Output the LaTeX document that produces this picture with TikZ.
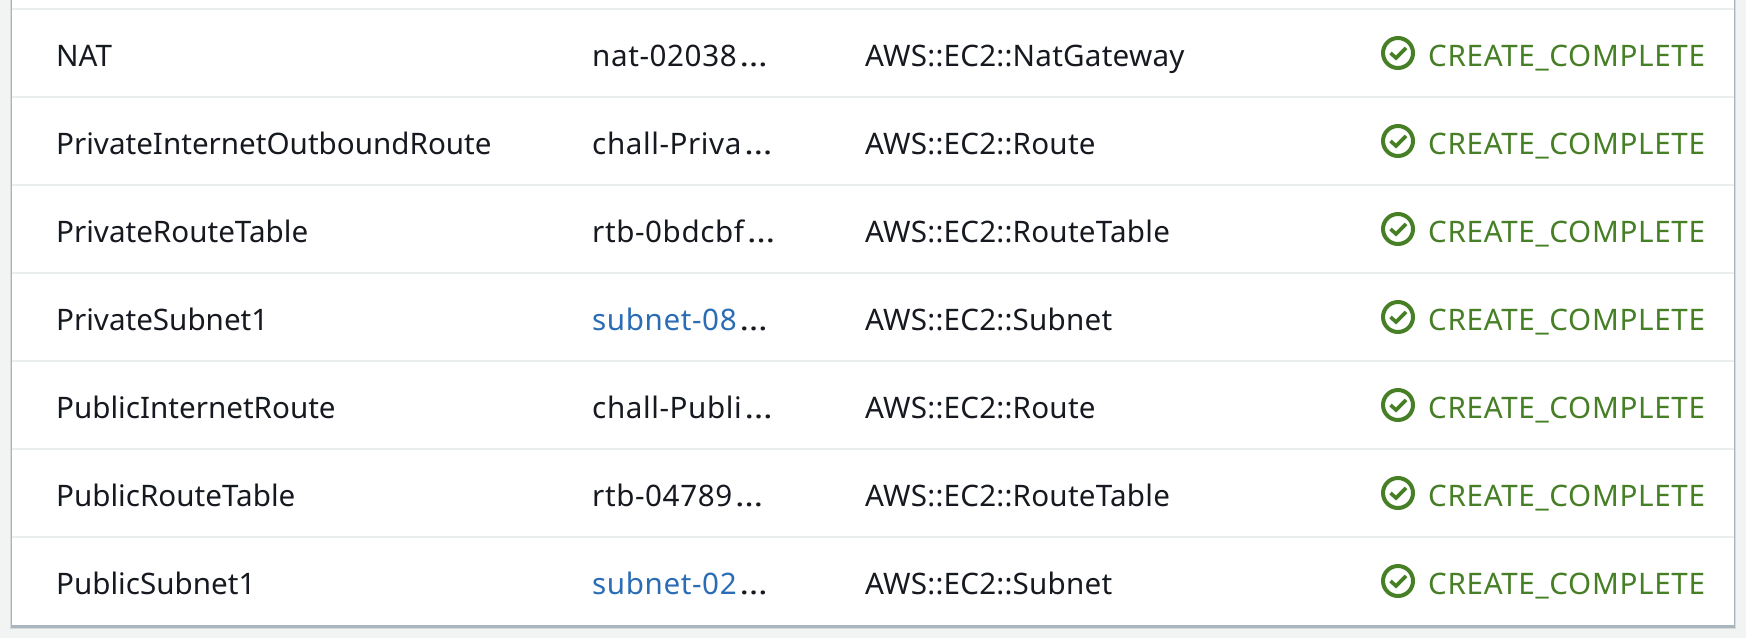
\documentclass[tikz,border=0pt]{standalone}
\usepackage{fontspec}
\setmainfont{Noto Sans}
\usetikzlibrary{positioning}
\definecolor{pagegray}{HTML}{F2F3F3}
\definecolor{rowgray}{HTML}{EAEDED}
\definecolor{edgegray}{HTML}{A9B5BC}
\definecolor{softgray}{HTML}{D5DBDB}
\definecolor{inkblack}{HTML}{16191F}
\definecolor{okgreen}{HTML}{467F25}
\definecolor{linkblue}{HTML}{2B6DB5}
\newcommand{\idmore}{\hspace{3pt}\scalebox{1.2}[1]{…}}
\begin{document}
\begin{tikzpicture}[x=1pt, y=-1pt, on grid, node distance=88pt, font=\fontsize{29.6}{32}\selectfont]
\tikzstyle{cell}=[inner sep=0pt, anchor=base west, text=inkblack]
\tikzstyle{idcell}=[cell, font=\fontsize{29.6}{32}\selectfont\addfontfeature{LetterSpace=2}]
\tikzstyle{typecell}=[cell, font=\fontsize{29.6}{32}\selectfont\addfontfeature{LetterSpace=0.75}]
\tikzstyle{statuscell}=[cell, text=okgreen, font=\fontsize{29.6}{32}\selectfont\addfontfeature{LetterSpace=2.3}]
\tikzstyle{rowline}=[draw=rowgray, line width=2pt]
\tikzstyle{statusicon}=[anchor=center, circle, draw=okgreen, line width=4pt, minimum size=30pt, inner sep=0pt,
  path picture={\draw[okgreen, line width=3.6pt] ([shift={(-7.5pt,0pt)}]path picture bounding box.center) -- ([shift={(-2pt,-5pt)}]path picture bounding box.center) -- ([shift={(8pt,5pt)}]path picture bounding box.center);}]
\useasboundingbox (0,0) rectangle (1746,638);
% page and card
\fill[pagegray] (0,0) rectangle (1746,638);
\fill[softgray] (10,0) rectangle (1736,629);
\fill[edgegray] (11,0) rectangle (1735,628);
\fill[white] (12,0) rectangle (1734,625);
\draw[rowline] (12,9) -- (1734,9);
\draw[rowline] (12,97) -- (1734,97);
\draw[rowline] (12,185) -- (1734,185);
\draw[rowline] (12,273) -- (1734,273);
\draw[rowline] (12,361) -- (1734,361);
\draw[rowline] (12,449) -- (1734,449);
\draw[rowline] (12,537) -- (1734,537);
% logical ids
\node[cell] (nat) at (56,66) {NAT};
\node[below=of nat.base west, cell] (outroute) {PrivateInternetOutboundRoute};
\node[below=of outroute.base west, cell] (privtable) {PrivateRouteTable};
\node[below=of privtable.base west, cell] (privsubnet) {PrivateSubnet1};
\node[below=of privsubnet.base west, cell] (pubroute) {PublicInternetRoute};
\node[below=of pubroute.base west, cell] (pubtable) {PublicRouteTable};
\node[below=of pubtable.base west, cell] (pubsubnet) {PublicSubnet1};
% physical ids
\node[right=536pt of nat.base west, idcell] (natid) {nat-02038\idmore};
\node[below=of natid.base west, idcell] (outrouteid) {chall-Priva\idmore};
\node[below=of outrouteid.base west, idcell] (privtableid) {rtb-0bdcbf\idmore};
\node[below=of privtableid.base west, idcell] (privsubnetid) {\textcolor{linkblue}{subnet-08}\idmore};
\node[below=of privsubnetid.base west, idcell] (pubrouteid) {chall-Publi\idmore};
\node[below=of pubrouteid.base west, idcell] (pubtableid) {rtb-04789\idmore};
\node[below=of pubtableid.base west, idcell] (pubsubnetid) {\textcolor{linkblue}{subnet-02}\idmore};
% types
\node[right=273pt of natid.base west, typecell] (nattype) {AWS::EC2::NatGateway};
\node[below=of nattype.base west, typecell] (outroutetype) {AWS::EC2::Route};
\node[below=of outroutetype.base west, typecell] (privtabletype) {AWS::EC2::RouteTable};
\node[below=of privtabletype.base west, typecell] (privsubnettype) {AWS::EC2::Subnet};
\node[below=of privsubnettype.base west, typecell] (pubroutetype) {AWS::EC2::Route};
\node[below=of pubroutetype.base west, typecell] (pubtabletype) {AWS::EC2::RouteTable};
\node[below=of pubtabletype.base west, typecell] (pubsubnettype) {AWS::EC2::Subnet};
% status
\node[right=563pt of nattype.base west, statuscell] (natst) {CREATE\_COMPLETE};
\node[below=of natst.base west, statuscell] (outroutest) {CREATE\_COMPLETE};
\node[below=of outroutest.base west, statuscell] (privtablest) {CREATE\_COMPLETE};
\node[below=of privtablest.base west, statuscell] (privsubnetst) {CREATE\_COMPLETE};
\node[below=of privsubnetst.base west, statuscell] (pubroutest) {CREATE\_COMPLETE};
\node[below=of pubroutest.base west, statuscell] (pubtablest) {CREATE\_COMPLETE};
\node[below=of pubtablest.base west, statuscell] (pubsubnetst) {CREATE\_COMPLETE};
\node[left=30pt of natst.base west, statusicon, yshift=13pt] (naticon) {};
\node[below=of naticon, statusicon] (outrouteicon) {};
\node[below=of outrouteicon, statusicon] (privtableicon) {};
\node[below=of privtableicon, statusicon] (privsubneticon) {};
\node[below=of privsubneticon, statusicon] (pubrouteicon) {};
\node[below=of pubrouteicon, statusicon] (pubtableicon) {};
\node[below=of pubtableicon, statusicon] (pubsubneticon) {};
\end{tikzpicture}
\end{document}
